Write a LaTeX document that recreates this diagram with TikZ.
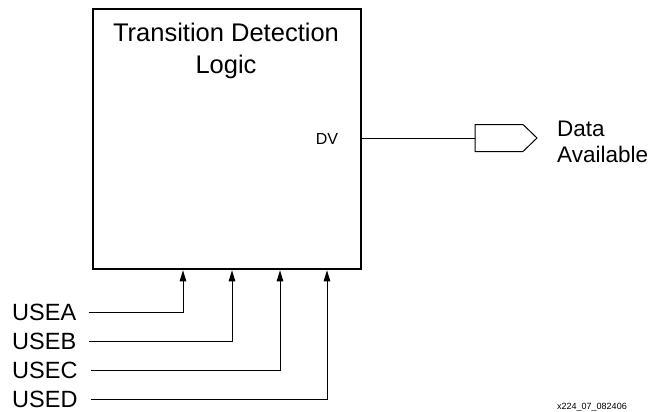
\documentclass[tikz,border=0pt]{standalone}
\usepackage{fontspec}
\setmainfont{Liberation Sans}
\usetikzlibrary{arrows.meta}
\begin{document}
\begin{tikzpicture}[x=1pt,y=-1pt,
  lbl/.style={font=\fontsize{23.5}{26}\selectfont, inner sep=0pt, anchor=west},
  wire/.style={line width=1pt},
  inarrow/.style={wire, -{Triangle[length=11pt,width=6.5pt]}},
  thick box/.style={draw, line width=2.6pt, inner sep=0pt, minimum width=268pt, minimum height=260pt}]
\useasboundingbox (0,0) rectangle (653,412);
\node[thick box] (box) at (227,139) {};
\node[font=\fontsize{25.5}{32}\selectfont, align=center, anchor=north, inner sep=0pt] (title) at (226,23) {Transition Detection\\Logic};
\node[font=\fontsize{16}{18}\selectfont, inner sep=0pt] (dv) at (327,139) {DV};
% output pad
\coordinate (pin) at (475,138);
\draw[wire] (475,124.5) -- (523,124.5) -- (537,138) -- (523,151.5) -- (475,151.5) -- cycle;
\draw[wire] (box.east |- pin) -- (pin);
\node[font=\fontsize{22.5}{26}\selectfont, align=left, anchor=north west, inner sep=0pt] (da) at (557,121) {Data\\Available};
% inputs
\node[lbl] (ua) at (12,312) {USEA};
\node[lbl] (ub) at (12,341) {USEB};
\node[lbl] (uc) at (12,370) {USEC};
\node[lbl] (ud) at (12,399) {USED};
\coordinate (ta) at (183,0);
\coordinate (tb) at (232,0);
\coordinate (tc) at (280,0);
\coordinate (td) at (327,0);
\draw[inarrow] ([xshift=13pt]ua.east) -| (box.south -| ta);
\draw[inarrow] ([xshift=13pt]ub.east) -| (box.south -| tb);
\draw[inarrow] ([xshift=13pt]uc.east) -| (box.south -| tc);
\draw[inarrow] ([xshift=13pt]ud.east) -| (box.south -| td);
\node[font=\fontsize{9}{11}\selectfont, anchor=base west, inner sep=0pt] (fig) at (557,409) {x224\_07\_082406};
\end{tikzpicture}
\end{document}
